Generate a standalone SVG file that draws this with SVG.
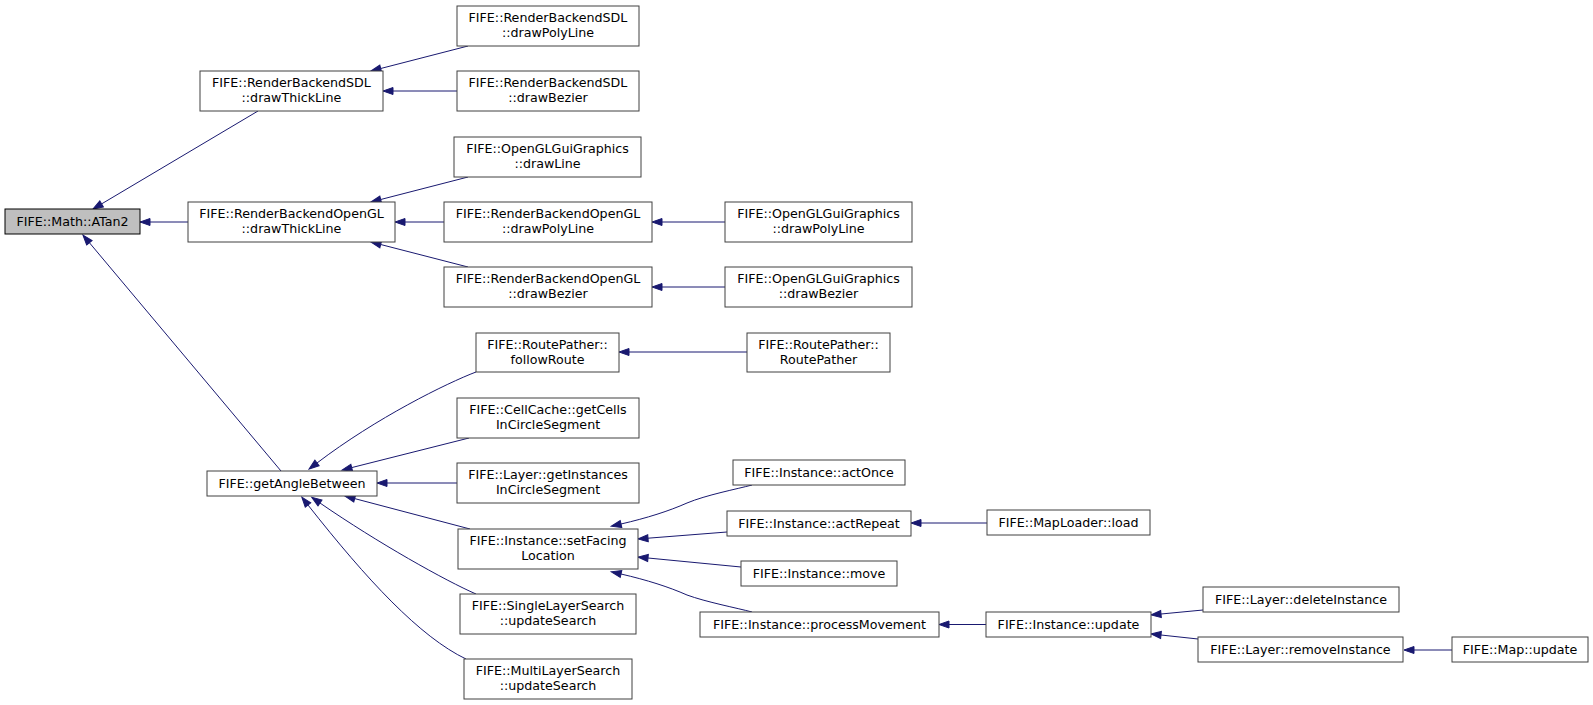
<svg xmlns="http://www.w3.org/2000/svg" width="1593" height="705" viewBox="0 0 1593 705">
<style>
.n rect{fill:#ffffff;stroke:#404040;stroke-width:1}
.root rect{fill:#bfbfbf;stroke:#000000}
text{font-family:"DejaVu Sans","Liberation Sans",sans-serif;font-size:12.67px;fill:#000000;text-anchor:middle}
#edges path{fill:none;stroke:#191970;stroke-width:1;marker-end:url(#ah)}
</style>
<defs>
<marker id="ah" markerUnits="userSpaceOnUse" markerWidth="12" markerHeight="9" refX="0" refY="3.5" orient="auto" overflow="visible">
<path d="M0,0 L10,3.5 L0,7 z" fill="#191970" stroke="#191970" stroke-width="1"/>
</marker>
</defs>
<rect width="1593" height="705" fill="#ffffff"/>
<g id="edges">
<path d="M258,111 L101.6,203.9"/>
<path d="M188,222 L150,222"/>
<path d="M281,471 L89.4,242.7"/>
<path d="M468,46 L380.7,68.5"/>
<path d="M457,91 L393,91"/>
<path d="M468,177 L380.7,199.5"/>
<path d="M444,222 L405,222"/>
<path d="M468,267 L380.7,244.5"/>
<path d="M725,222 L662,222"/>
<path d="M725,287 L662,287"/>
<path d="M476,372 C447,383 376,418 317,463"/>
<path d="M469,438 L351.7,467.6"/>
<path d="M457,483 L387,483"/>
<path d="M470,529 L354.7,498.6"/>
<path d="M476,594 C446,581 378,543 320,503"/>
<path d="M466,659 C420,637 367,580 308,505"/>
<path d="M747,352 L629,352"/>
<path d="M752,485 C737,489 706,495 687,503 C669,511 647,518 621,524"/>
<path d="M727,532 L648,538.2"/>
<path d="M741,567 L648,558"/>
<path d="M752,612 C737,608 706,602 687,595 C669,587 647,580 621,574"/>
<path d="M987,523 L921,523"/>
<path d="M986,624.5 L949,624.5"/>
<path d="M1203,610 L1161,614"/>
<path d="M1198,639 L1161,635"/>
<path d="M1452,650 L1414,650"/>
</g>
<g id="n_atan2" class="n root"><rect x="5" y="209" width="135" height="25"/><text x="72.5" y="225.5">FIFE::Math::ATan2</text></g>
<g id="n_sdl_thick" class="n"><rect x="200" y="71" width="183" height="40"/><text x="291.5" y="87">FIFE::RenderBackendSDL</text><text x="291.5" y="102">::drawThickLine</text></g>
<g id="n_ogl_thick" class="n"><rect x="188" y="202" width="207" height="40"/><text x="291.5" y="218">FIFE::RenderBackendOpenGL</text><text x="291.5" y="233">::drawThickLine</text></g>
<g id="n_angle" class="n"><rect x="207" y="471" width="170" height="25"/><text x="292" y="487.5">FIFE::getAngleBetween</text></g>
<g id="n_sdl_poly" class="n"><rect x="457" y="6" width="182" height="40"/><text x="548" y="22">FIFE::RenderBackendSDL</text><text x="548" y="37">::drawPolyLine</text></g>
<g id="n_sdl_bez" class="n"><rect x="457" y="71" width="182" height="40"/><text x="548" y="87">FIFE::RenderBackendSDL</text><text x="548" y="102">::drawBezier</text></g>
<g id="n_gui_line" class="n"><rect x="454" y="137" width="187" height="40"/><text x="547.5" y="153">FIFE::OpenGLGuiGraphics</text><text x="547.5" y="168">::drawLine</text></g>
<g id="n_ogl_poly" class="n"><rect x="444" y="202" width="208" height="40"/><text x="548" y="218">FIFE::RenderBackendOpenGL</text><text x="548" y="233">::drawPolyLine</text></g>
<g id="n_ogl_bez" class="n"><rect x="444" y="267" width="208" height="40"/><text x="548" y="283">FIFE::RenderBackendOpenGL</text><text x="548" y="298">::drawBezier</text></g>
<g id="n_gui_poly" class="n"><rect x="725" y="202" width="187" height="40"/><text x="818.5" y="218">FIFE::OpenGLGuiGraphics</text><text x="818.5" y="233">::drawPolyLine</text></g>
<g id="n_gui_bez" class="n"><rect x="725" y="267" width="187" height="40"/><text x="818.5" y="283">FIFE::OpenGLGuiGraphics</text><text x="818.5" y="298">::drawBezier</text></g>
<g id="n_follow" class="n"><rect x="476" y="333" width="143" height="39"/><text x="547.5" y="349">FIFE::RoutePather::</text><text x="547.5" y="364">followRoute</text></g>
<g id="n_routepather" class="n"><rect x="747" y="333" width="143" height="39"/><text x="818.5" y="349">FIFE::RoutePather::</text><text x="818.5" y="364">RoutePather</text></g>
<g id="n_cellcache" class="n"><rect x="457" y="398" width="182" height="40"/><text x="548" y="414">FIFE::CellCache::getCells</text><text x="548" y="429">InCircleSegment</text></g>
<g id="n_layer_getinst" class="n"><rect x="457" y="463" width="182" height="40"/><text x="548" y="479">FIFE::Layer::getInstances</text><text x="548" y="494">InCircleSegment</text></g>
<g id="n_setfacing" class="n"><rect x="458" y="529" width="180" height="40"/><text x="548" y="545">FIFE::Instance::setFacing</text><text x="548" y="560">Location</text></g>
<g id="n_single" class="n"><rect x="460" y="594" width="176" height="40"/><text x="548" y="610">FIFE::SingleLayerSearch</text><text x="548" y="625">::updateSearch</text></g>
<g id="n_multi" class="n"><rect x="464" y="659" width="168" height="40"/><text x="548" y="675">FIFE::MultiLayerSearch</text><text x="548" y="690">::updateSearch</text></g>
<g id="n_actonce" class="n"><rect x="733" y="460" width="172" height="25"/><text x="819" y="476.5">FIFE::Instance::actOnce</text></g>
<g id="n_actrepeat" class="n"><rect x="727" y="511" width="184" height="25"/><text x="819" y="527.5">FIFE::Instance::actRepeat</text></g>
<g id="n_move" class="n"><rect x="741" y="561" width="156" height="25"/><text x="819" y="577.5">FIFE::Instance::move</text></g>
<g id="n_procmove" class="n"><rect x="700" y="612" width="239" height="25"/><text x="819.5" y="628.5">FIFE::Instance::processMovement</text></g>
<g id="n_maploader" class="n"><rect x="987" y="510" width="163" height="25"/><text x="1068.5" y="526.5">FIFE::MapLoader::load</text></g>
<g id="n_inst_update" class="n"><rect x="986" y="612" width="165" height="25"/><text x="1068.5" y="628.5">FIFE::Instance::update</text></g>
<g id="n_delinst" class="n"><rect x="1203" y="587" width="196" height="25"/><text x="1301" y="603.5">FIFE::Layer::deleteInstance</text></g>
<g id="n_reminst" class="n"><rect x="1198" y="637" width="205" height="25"/><text x="1300.5" y="653.5">FIFE::Layer::removeInstance</text></g>
<g id="n_mapupdate" class="n"><rect x="1452" y="637" width="136" height="25"/><text x="1520" y="653.5">FIFE::Map::update</text></g>
</svg>
